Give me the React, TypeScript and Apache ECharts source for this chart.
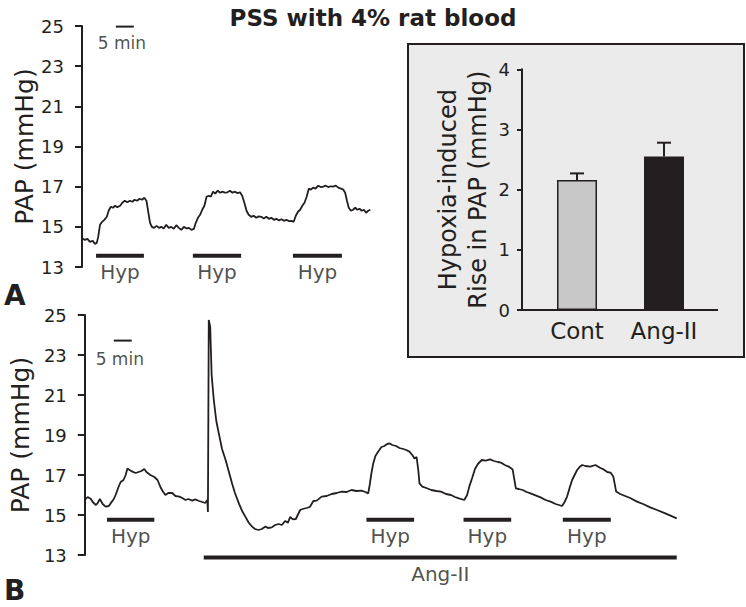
import React, { useEffect, useRef } from "react";
import * as echarts from "echarts";

const FONT = "'DejaVu Sans', sans-serif";
const INK = "#231f20";

// ---- Panel A trace (minutes, mmHg) ----
const traceA: [number, number][] = [
  [0, 14.45], [0.8, 14.35], [1.5, 14.4], [2.2, 14.25], [3.0, 14.3], [3.6, 14.15], [4.1, 14.2], [4.5, 14.5],
  [5.0, 15.1], [5.6, 15.25], [6.2, 15.35], [6.9, 15.5], [7.4, 15.8], [8.0, 16.0], [8.6, 15.95], [9.2, 16.05],
  [9.8, 15.98], [10.6, 16.05], [11.2, 16.2], [11.9, 16.3], [12.6, 16.22], [13.3, 16.3], [14.0, 16.25], [14.6, 16.35],
  [15.3, 16.3], [16.0, 16.4], [16.7, 16.35], [17.3, 16.45], [17.9, 16.3], [18.4, 15.75], [18.9, 15.2], [19.4, 15.0],
  [20.0, 14.95], [20.7, 15.05], [21.4, 14.95], [22.0, 15.0], [22.7, 14.92], [23.4, 15.1], [24.1, 14.95], [24.8, 15.0],
  [25.5, 14.9], [26.2, 15.08], [26.9, 14.95], [27.6, 14.85], [28.3, 15.0], [29.0, 14.92], [29.7, 14.95], [30.4, 14.85],
  [31.1, 14.9], [31.6, 15.2], [32.2, 15.45], [32.8, 15.6], [33.4, 15.85], [34.0, 16.05], [34.6, 16.5], [35.2, 16.55],
  [35.8, 16.5], [36.4, 16.75], [37.0, 16.65], [37.7, 16.8], [38.4, 16.7], [39.0, 16.75], [39.7, 16.7], [40.4, 16.72],
  [41.1, 16.8], [41.8, 16.7], [42.5, 16.75], [43.2, 16.68], [43.9, 16.72], [44.5, 16.55], [45.1, 16.2], [45.7, 15.8],
  [46.3, 15.6], [47.0, 15.5], [47.7, 15.55], [48.4, 15.45], [49.1, 15.52], [49.8, 15.5], [50.5, 15.42], [51.2, 15.5],
  [51.9, 15.4], [52.6, 15.45], [53.3, 15.35], [54.0, 15.4], [54.7, 15.32], [55.4, 15.38], [56.1, 15.3], [56.8, 15.35],
  [57.5, 15.28], [58.2, 15.3], [58.8, 15.25], [59.4, 15.55], [60.0, 15.75], [60.6, 15.85], [61.2, 16.05], [61.8, 16.2],
  [62.4, 16.5], [63.0, 16.9], [63.6, 16.85], [64.2, 16.95], [64.9, 16.9], [65.6, 17.05], [66.3, 16.98], [67.0, 17.0],
  [67.7, 17.05], [68.4, 16.98], [69.1, 17.02], [69.8, 17.0], [70.5, 17.05], [71.2, 16.95], [71.9, 16.9], [72.6, 16.85],
  [73.1, 16.7], [73.6, 16.3], [74.1, 15.95], [74.7, 15.8], [75.3, 15.85], [75.9, 15.95], [76.5, 15.85], [77.1, 15.9],
  [77.7, 15.8], [78.3, 15.85], [78.9, 15.7], [79.5, 15.8], [80.1, 15.85],
];

// ---- Panel B trace (minutes, mmHg) ----
const traceB: [number, number][] = [
  [0, 15.75], [0.8, 15.9], [1.7, 15.8], [2.2, 15.65], [3.1, 15.5], [3.6, 15.6], [4.2, 15.8], [5.0, 15.55],
  [5.8, 15.42], [6.7, 15.45], [7.2, 15.58], [8.1, 15.8], [8.6, 16.0], [9.4, 16.4], [10.0, 16.65], [10.8, 16.75],
  [11.4, 17.0], [11.9, 17.33], [12.5, 17.25], [13.3, 17.17], [14.2, 17.1], [15.0, 17.15], [15.8, 17.2], [16.6, 17.3],
  [17.2, 17.15], [18.3, 17.0], [19.4, 16.9], [20.3, 16.75], [21.1, 16.4], [21.7, 16.2], [22.5, 16.0], [23.3, 16.1],
  [24.4, 16.1], [25.3, 15.95], [26.4, 15.92], [27.2, 15.85], [28.1, 15.75], [28.9, 15.8], [30.0, 15.72], [30.8, 15.78],
  [31.9, 15.7], [32.8, 15.65], [33.6, 15.6], [34.2, 15.75], [34.36, 15.15], [34.6, 24.75], [35.0, 24.4], [35.4, 22.0],
  [36.0, 20.75], [36.7, 19.7], [37.4, 19.08], [38.3, 18.3], [39.3, 17.75], [40.3, 17.1], [41.1, 16.58], [41.9, 16.1],
  [43.0, 15.58], [43.9, 15.2], [44.8, 14.92], [45.8, 14.6], [46.7, 14.42], [47.5, 14.3], [48.5, 14.25], [49.4, 14.3],
  [50.4, 14.42], [51.1, 14.35], [52.2, 14.38], [53.1, 14.5], [54.1, 14.55], [55.0, 14.5], [55.9, 14.7], [56.7, 14.62],
  [57.3, 14.9], [58.1, 14.78], [58.9, 14.8], [60.1, 15.25], [60.8, 15.3], [61.9, 15.35], [62.8, 15.4], [63.8, 15.7],
  [64.7, 15.72], [66.1, 15.92], [67.5, 15.95], [68.9, 16.05], [70.3, 16.1], [71.7, 16.17], [73.1, 16.15], [74.4, 16.25],
  [75.8, 16.2], [77.2, 16.22], [78.3, 16.15], [79.1, 16.08], [79.5, 16.5], [80.0, 17.1], [80.5, 17.58], [81.1, 17.95],
  [81.9, 18.17], [82.8, 18.4], [83.6, 18.45], [84.4, 18.55], [85.1, 18.58], [85.8, 18.5], [86.9, 18.45], [87.8, 18.35],
  [88.9, 18.3], [89.7, 18.25], [90.6, 18.17], [91.4, 18.0], [92.0, 17.83], [92.6, 17.9], [93.1, 17.2], [93.4, 16.58],
  [94.2, 16.42], [95.3, 16.35], [96.7, 16.25], [98.1, 16.2], [99.4, 16.17], [100.8, 16.05], [102.2, 16.0], [103.3, 15.9],
  [104.4, 15.83], [105.9, 15.75], [106.7, 16.0], [107.3, 16.42], [108.1, 16.85], [108.9, 17.3], [109.7, 17.55], [110.8, 17.75],
  [111.9, 17.72], [113.1, 17.78], [114.2, 17.7], [115.3, 17.65], [116.1, 17.62], [117.2, 17.5], [118.3, 17.42], [119.4, 17.28],
  [120.3, 16.33], [121.1, 16.3], [122.2, 16.25], [123.3, 16.15], [124.4, 16.08], [125.8, 15.98], [127.2, 15.88], [128.6, 15.75],
  [130.0, 15.67], [131.4, 15.55], [133.2, 15.45], [133.9, 15.65], [134.6, 15.92], [135.3, 16.35], [136.0, 16.75], [136.7, 17.0],
  [137.4, 17.25], [138.1, 17.4], [138.8, 17.5], [139.7, 17.45], [141.1, 17.42], [142.5, 17.5], [143.9, 17.35], [144.8, 17.28],
  [145.8, 17.15], [146.7, 17.12], [147.5, 16.92], [148.3, 16.17], [149.4, 16.05], [150.8, 15.95], [152.2, 15.85], [154.1, 15.67],
  [155.8, 15.55], [157.8, 15.38], [159.7, 15.25], [161.5, 15.12], [163.3, 14.98], [165.2, 14.83],
];

// Hypoxia periods (start, end minutes) and the level at which the bar is drawn
const hypA: [number, number][] = [[3.9, 17.2], [30.8, 44.2], [58.6, 72.2]];
const hypALevel = 13.56;
const hypB: [number, number][] = [[6.2, 19.4], [78.6, 91.9], [105.7, 119.0], [133.4, 146.8]];
const hypBLevel = 14.76;
const angIIPeriod: [number, number] = [33.2, 165.2];
const angIILevel = 12.87;
// 5 min scale bars
const scaleA: [number, number] = [9.4, 14.4];
const scaleALevel = 24.97;
const scaleB: [number, number] = [8.1, 13.1];
const scaleBLevel = 23.72;

// Inset bar chart
const insetCategories = ["Cont", "Ang-II"];
const insetMeans = [2.16, 2.55];
const insetErrors = [0.11, 0.23];
const insetColors = ["#c8c8c8", INK];

const PX_PER_MIN = 3.6;

function segSeries(xi: number, range: [number, number], level: number, width: number) {
  return {
    type: "line",
    xAxisIndex: xi,
    yAxisIndex: xi,
    data: [[range[0], level], [range[1], level]],
    symbol: "none",
    clip: false,
    silent: true,
    lineStyle: { color: INK, width, cap: "butt" },
    z: 4,
  };
}

function textSeries(
  xi: number,
  pts: [number, number][],
  text: string,
  fontSize: number,
  distance: number,
  offset: [number, number] = [0, 0]
) {
  return {
    type: "scatter",
    xAxisIndex: xi,
    yAxisIndex: xi,
    data: pts,
    symbolSize: 1,
    clip: false,
    silent: true,
    itemStyle: { color: "rgba(0,0,0,0)" },
    label: {
      show: true,
      position: "bottom",
      distance,
      offset,
      formatter: text,
      color: INK,
      fontFamily: FONT,
      fontSize,
    },
    z: 4,
  };
}

function traceYAxis(gridIndex: number) {
  return {
    type: "value",
    gridIndex,
    min: 13,
    max: 25,
    interval: 2,
    name: "PAP (mmHg)",
    nameLocation: "middle",
    nameGap: 45,
    nameTextStyle: { fontFamily: FONT, fontSize: 25, color: INK },
    axisLine: { show: true, lineStyle: { color: INK, width: 2 } },
    axisTick: { show: true, length: 7, lineStyle: { color: INK, width: 2 } },
    axisLabel: { fontFamily: FONT, fontSize: 18, color: INK, margin: 18 },
    splitLine: { show: false },
  };
}

export default function App() {
  const ref = useRef<HTMLDivElement>(null);
  useEffect(() => {
    if (!ref.current) return;
    const chart = echarts.init(ref.current, undefined, { renderer: "svg" });
    const mid = (r: [number, number]) => (r[0] + r[1]) / 2;
    const option: any = {
      animation: false,
      backgroundColor: "#ffffff",
      title: {
        text: "PSS with 4% rat blood",
        left: "center",
        top: 1,
        textStyle: { fontFamily: FONT, fontWeight: "bold", fontSize: 23, color: INK },
      },
      grid: [
        { left: 82, top: 26, width: 80 * PX_PER_MIN, height: 241 },
        { left: 82, top: 315, width: 166 * PX_PER_MIN, height: 240 },
        { left: 533.5, top: 69.3, width: 174, height: 240.7 },
      ],
      xAxis: [
        { type: "value", gridIndex: 0, min: 0, max: 80, show: false },
        { type: "value", gridIndex: 1, min: 0, max: 166, show: false },
        {
          type: "category",
          gridIndex: 2,
          data: insetCategories,
          axisLine: { show: false },
          axisTick: { show: false },
          axisLabel: { fontFamily: FONT, fontSize: 23, color: INK, margin: 9 },
        },
      ],
      yAxis: [
        traceYAxis(0),
        traceYAxis(1),
        {
          type: "value",
          gridIndex: 2,
          min: 0,
          max: 4,
          interval: 1,
          offset: 11.5,
          name: "Hypoxia-induced\nRise in PAP (mmHg)",
          nameLocation: "middle",
          nameGap: 29,
          nameTextStyle: { fontFamily: FONT, fontSize: 24, color: INK, lineHeight: 30 },
          axisLine: { show: true, lineStyle: { color: INK, width: 2 } },
          axisTick: { show: true, length: 5, lineStyle: { color: INK, width: 2 } },
          axisLabel: { fontFamily: FONT, fontSize: 18, color: INK, margin: 12 },
          splitLine: { show: false },
          z: 5,
        },
      ],
      graphic: [
        {
          type: "rect",
          z: -10,
          shape: { x: 408, y: 44, width: 336, height: 313 },
          style: { fill: "#ebebeb", stroke: INK, lineWidth: 2 },
        },
        {
          type: "line",
          z: 10,
          shape: { x1: 522, y1: 310, x2: 718, y2: 310 },
          style: { stroke: INK, lineWidth: 2 },
        },
        {
          type: "text",
          left: 4,
          top: 281,
          style: { text: "A", font: `bold 28px ${FONT}`, fill: INK },
        },
        {
          type: "text",
          left: 4,
          top: 576,
          style: { text: "B", font: `bold 28px ${FONT}`, fill: INK },
        },
      ],
      series: [
        {
          type: "line",
          xAxisIndex: 0,
          yAxisIndex: 0,
          data: traceA,
          symbol: "none",
          lineStyle: { color: INK, width: 1.8 },
          z: 3,
        },
        {
          type: "line",
          xAxisIndex: 1,
          yAxisIndex: 1,
          data: traceB,
          symbol: "none",
          clip: false,
          lineStyle: { color: INK, width: 1.8 },
          z: 3,
        },
        ...hypA.map((r) => segSeries(0, r, hypALevel, 4)),
        ...hypB.map((r) => segSeries(1, r, hypBLevel, 4)),
        segSeries(1, angIIPeriod, angIILevel, 4),
        segSeries(0, scaleA, scaleALevel, 2),
        segSeries(1, scaleB, scaleBLevel, 2),
        textSeries(0, hypA.map((r) => [mid(r), hypALevel] as [number, number]), "Hyp", 20, 6),
        textSeries(1, hypB.map((r) => [mid(r), hypBLevel] as [number, number]), "Hyp", 20, 6),
        textSeries(1, [[mid(angIIPeriod), angIILevel]], "Ang-II", 20, 6),
        textSeries(0, [[mid(scaleA), scaleALevel]], "5 min", 17, 7, [-3, 0]),
        textSeries(1, [[mid(scaleB), scaleBLevel]], "5 min", 17, 9, [-3, 0]),
        {
          type: "bar",
          xAxisIndex: 2,
          yAxisIndex: 2,
          barWidth: 40,
          data: insetMeans.map((v, i) => ({
            value: v,
            itemStyle: { color: insetColors[i], borderColor: INK, borderWidth: 1.5 },
          })),
          z: 3,
        },
        {
          type: "custom",
          xAxisIndex: 2,
          yAxisIndex: 2,
          data: insetMeans.map((v, i) => [i, v, insetErrors[i]]),
          encode: { x: 0, y: 1 },
          z: 4,
          renderItem: (params: any, api: any) => {
            const i = api.value(0);
            const v = api.value(1);
            const e = api.value(2);
            const p0 = api.coord([i, v]);
            const p1 = api.coord([i, v + e]);
            const st = { stroke: INK, lineWidth: 2 };
            return {
              type: "group",
              children: [
                { type: "line", shape: { x1: p0[0], y1: p0[1], x2: p1[0], y2: p1[1] }, style: st },
                { type: "line", shape: { x1: p1[0] - 7, y1: p1[1], x2: p1[0] + 7, y2: p1[1] }, style: st },
              ],
            };
          },
        },
      ],
    };
    chart.setOption(option);
    return () => chart.dispose();
  }, []);
  return (
    <div
      ref={ref}
      style={{ position: "fixed", left: 0, top: 0, width: 746, height: 607, background: "#fff" }}
    />
  );
}
